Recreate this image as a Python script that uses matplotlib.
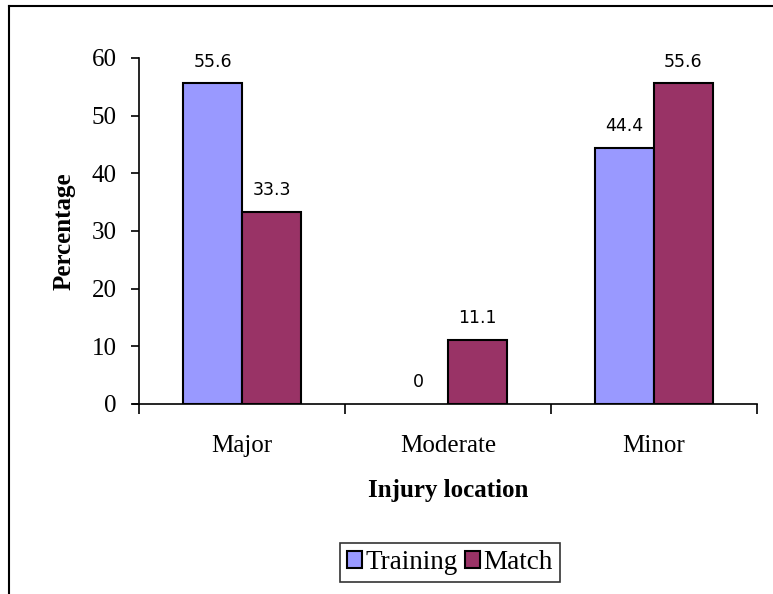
import matplotlib.pyplot as plt
import numpy as np
from matplotlib.lines import Line2D

# data
categories = ["Major", "Moderate", "Minor"]
training = [55.6, 0, 44.4]
match = [33.3, 11.1, 55.6]
yticks = [0, 10, 20, 30, 40, 50, 60]

plt.rcParams['font.family'] = 'Liberation Serif'

fig = plt.figure(figsize=(7.73, 5.94), dpi=100)
ax = fig.add_axes([0.1798, 0.3199, 0.7995, 0.5825])

x = np.arange(len(categories))
w = 0.286
b1 = ax.bar(x - w / 2, training, w, color="#9999FF", edgecolor="black", linewidth=1.5, label="Training")
b2 = ax.bar(x + w / 2, match, w, color="#993366", edgecolor="black", linewidth=1.5, label="Match")
for bars, vals in [(b1, training), (b2, match)]:
    for r, v in zip(bars, vals):
        if v == 0:
            r.set_linewidth(0)

# value labels
for bars, vals in [(b1, training), (b2, match)]:
    for r, v in zip(bars, vals):
        lab = "0" if v == 0 else f"{v:.1f}"
        ax.annotate(lab, (r.get_x() + r.get_width() / 2, v), xytext=(0, 9),
                    textcoords="offset points", ha="center", va="bottom",
                    fontsize=12.5, family="DejaVu Sans", color="black")

ax.set_xlim(-0.5, 2.5)
ax.set_ylim(0, 60)
ax.set_yticks(yticks)
ax.set_yticklabels([str(t) for t in yticks], fontsize=18)
ax.set_xticks(x)
ax.set_xticklabels(categories, fontsize=18)
ax.tick_params(axis="x", length=0, pad=22)
ax.set_xticks([-0.5, 0.5, 1.5, 2.5], minor=True)
ax.tick_params(axis="x", which="minor", length=7, width=1.2, direction="out")
ax.tick_params(axis="y", length=6, width=1.2, pad=10)

for s in ["top", "right"]:
    ax.spines[s].set_visible(False)
ax.spines["left"].set_linewidth(1.2)
ax.spines["bottom"].set_linewidth(1.2)
ax.spines["bottom"].set_bounds(-0.53, 2.5)

ax.set_ylabel("Percentage", fontsize=18, fontweight="bold", labelpad=12)
ax.set_xlabel("Injury location", fontsize=18, fontweight="bold", labelpad=16)

leg = fig.legend(handles=[b1, b2], loc="center", bbox_to_anchor=(0.582, 0.053), ncol=2,
                 fontsize=19.5, frameon=True, fancybox=False, edgecolor="black",
                 handlelength=0.55, handleheight=0.55, handletextpad=0.12,
                 columnspacing=0.3, borderpad=0.25, borderaxespad=0)
leg.get_frame().set_linewidth(1.2)

# outer frame (top and left edges)
fig.add_artist(Line2D([9 / 773, 1], [1 - 6 / 594, 1 - 6 / 594], color="black", linewidth=1.5, transform=fig.transFigure))
fig.add_artist(Line2D([9 / 773, 9 / 773], [0, 1 - 6 / 594], color="black", linewidth=1.5, transform=fig.transFigure))

fig.savefig("out.png", dpi=100)
